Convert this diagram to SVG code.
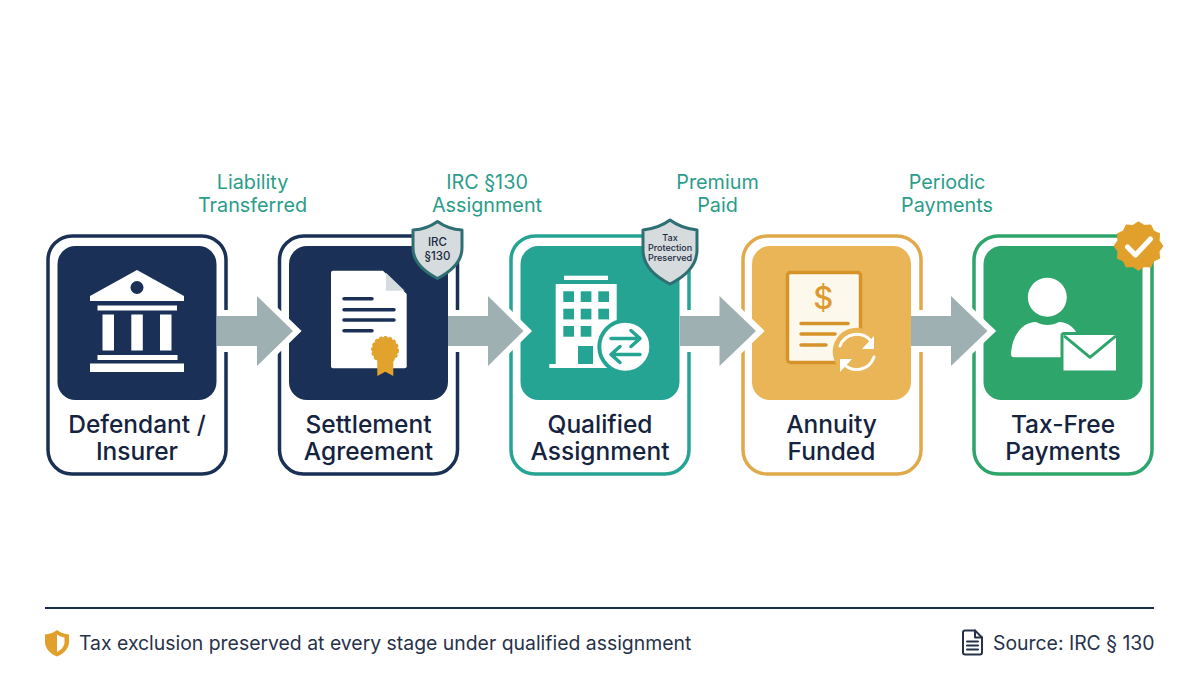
<svg xmlns="http://www.w3.org/2000/svg" width="1200" height="675" viewBox="0 0 1200 675">
<style>
text{font-family:Inter,"Liberation Sans",sans-serif;text-anchor:middle}
.card{fill:#fff;stroke-width:3.5}
.name{font-size:24.500px;font-weight:500;fill:#15233f}
.edge{font-size:19.800px;fill:#2a9d8a}
.halo{fill:#fff;stroke:#fff;stroke-width:12;stroke-linejoin:miter;stroke-miterlimit:10}
.arrow{fill:#9fb0b2}
.w{fill:#fff}
.foot{font-size:19.400px;fill:#27324a;text-anchor:start}
.shield{fill:#d6dbde;stroke:#2e6f73;stroke-width:3;stroke-linejoin:round}
.badge{font-weight:500;fill:#1b2a40}
.l{fill:none;stroke-linecap:round;stroke-linejoin:round}
</style>
<rect width="1200" height="675" fill="#fff"/>

<g id="node-defendant">
<rect class="card" x="48" y="236" width="178" height="238" rx="24" stroke="#1a3057"/>
<rect x="57.500" y="246" width="159" height="154" rx="18" fill="#1a3057"/>
<path class="w" d="M137 270L184 296V301H90V296Z"/>
<circle cx="137" cy="287.500" r="6.500" fill="#1a3057"/>
<rect class="w" x="97.500" y="305.500" width="79.500" height="5"/>
<rect class="w" x="102.500" y="314.500" width="11.500" height="36"/>
<rect class="w" x="131.300" y="314.500" width="11.500" height="36"/>
<rect class="w" x="160" y="314.500" width="11.500" height="36"/>
<rect class="w" x="97.500" y="355" width="80" height="5"/>
<rect class="w" x="90" y="363.500" width="94" height="8.500"/>
<text class="name" x="137" y="433">Defendant /</text>
<text class="name" x="137" y="460">Insurer</text>
</g>

<g id="node-settlement">
<rect class="card" x="279.500" y="236" width="178" height="238" rx="24" stroke="#1a3057"/>
<rect x="289" y="246" width="159" height="154" rx="18" fill="#1a3057"/>
<path class="w" d="M333 270.700H383L406.700 294V366.300a2 2 0 0 1-2 2H333a2 2 0 0 1-2-2V272.700a2 2 0 0 1 2-2Z"/>
<path d="M386 272.700L404.700 290.700H386Z" fill="#d6dbde"/>
<g class="l" stroke="#1a3057" stroke-width="3.500">
<path d="M344 298.700H372M344 309.700H394M344 320H394M344 330.700H372"/>
</g>
<path d="M377.300 358V376L385.300 371.700L393.300 376V358Z" fill="#e2a32c"/>
<circle cx="385" cy="350" r="13" fill="#e2a32c" stroke="#e2a32c" stroke-width="2" stroke-dasharray="3 2"/>
<text class="name" x="368.500" y="433">Settlement</text>
<text class="name" x="368.500" y="460">Agreement</text>
<path class="shield" d="M437.500 221.500C445 227 454 229.500 462 230V248C462 262 450 272 437.500 278.500C425 272 413 262 413 248V230C421 229.500 430 227 437.500 221.500Z"/>
<text class="badge" x="437.500" y="246" font-size="11.500">IRC</text>
<text class="badge" x="437.500" y="260" font-size="11.500">§130</text>
</g>

<g id="node-qualified">
<rect class="card" x="511" y="236" width="178" height="238" rx="24" stroke="#26a493"/>
<rect x="520.500" y="246" width="159" height="154" rx="18" fill="#26a493"/>
<rect class="w" x="564" y="275.700" width="44" height="4.300"/>
<path class="w" d="M555.700 284H616.700V364H610V368H549.300V364H555.700Z"/>
<rect x="578" y="346" width="15" height="18" fill="#26a493"/>
<g fill="#26a493">
<rect x="563.300" y="291.300" width="10.700" height="10.700"/><rect x="580.700" y="291.300" width="10.700" height="10.700"/><rect x="598.300" y="291.300" width="10.700" height="10.700"/>
<rect x="563.300" y="308.700" width="10.700" height="10.700"/><rect x="580.700" y="308.700" width="10.700" height="10.700"/><rect x="598.300" y="308.700" width="10.700" height="10.700"/>
<rect x="563.300" y="326" width="10.700" height="10.700"/><rect x="580.700" y="326" width="10.700" height="10.700"/>
</g>
<circle cx="625.300" cy="346.700" r="26" fill="#fff" stroke="#26a493" stroke-width="4"/>
<g class="l" stroke="#26a493" stroke-width="3.500">
<path d="M611 338.500H640M631 330.500L640 338.500L631 346.500"/>
<path d="M640 354.500H611M620 346.500L611 354.500L620 362.500"/>
</g>
<text class="name" x="600" y="433">Qualified</text>
<text class="name" x="600" y="460">Assignment</text>
<path class="shield" d="M670 220C678 226 688 229 697 230V250C697 266 684 277 670 284C656 277 643 266 643 250V230C652 229 662 226 670 220Z"/>
<text class="badge" x="670" y="241" font-size="9">Tax</text>
<text class="badge" x="670" y="251" font-size="9">Protection</text>
<text class="badge" x="670" y="261" font-size="9">Preserved</text>
</g>

<g id="node-annuity">
<rect class="card" x="743" y="236" width="178" height="238" rx="24" stroke="#e0a94a"/>
<rect x="752" y="246" width="159" height="154" rx="18" fill="#e9b557"/>
<rect x="787.500" y="272.500" width="73" height="90" rx="3" fill="#fdf8ec" stroke="#d6932a" stroke-width="3.500"/>
<text x="823.300" y="309" font-size="31" font-weight="500" fill="#dc9a2d">$</text>
<g class="l" stroke="#d6932a" stroke-width="3.500">
<path d="M801 323.500H848M801 334H835M801 345H826"/>
</g>
<circle cx="856.700" cy="351.700" r="24" fill="#e9b557"/>
<g class="l" stroke="#fff" stroke-width="3">
<path d="M840 346A18 18 0 0 1 871 341"/>
<path d="M874 357A18 18 0 0 1 843 363"/>
</g>
<path class="w" d="M874 336V349H862Z"/>
<path class="w" d="M840 372V359H852Z"/>
<text class="name" x="831.500" y="433">Annuity</text>
<text class="name" x="831.500" y="460">Funded</text>
</g>

<g id="node-payments">
<rect class="card" x="974" y="236" width="178" height="238" rx="24" stroke="#2ea56b"/>
<rect x="983.500" y="246" width="159" height="154" rx="18" fill="#2ea56b"/>
<circle class="w" cx="1047.300" cy="297.300" r="19.500"/>
<path class="w" d="M1011 354C1012 336 1022 322 1036 322C1043 326 1052 326 1059 322C1068 322 1076 328 1080 340V357.300H1014Q1011 357.300 1011 354Z"/>
<rect class="w" x="1062" y="333.500" width="55.500" height="38.500" rx="2" stroke="#2ea56b" stroke-width="3"/>
<path class="l" d="M1065 336.700L1090 357.300L1115 336.700" stroke="#2ea56b" stroke-width="3"/>
<text class="name" x="1063" y="433">Tax-Free</text>
<text class="name" x="1063" y="460">Payments</text>
<g transform="translate(1138.500 246)">
<path fill="#e0a02b" stroke="#e0a02b" stroke-width="1.500" stroke-linejoin="round" d="M24 0L20.300 5.400L20.800 12L14.900 14.900L12 20.800L5.400 20.300L0 24L-5.400 20.300L-12 20.800L-14.900 14.900L-20.800 12L-20.300 5.400L-24 0L-20.300 -5.400L-20.800 -12L-14.900 -14.900L-12 -20.800L-5.400 -20.300L0 -24L5.400 -20.300L12 -20.800L14.900 -14.900L20.800 -12L20.300 -5.400Z"/>
<path class="l" d="M-11 1L-3 9L12 -7" stroke="#fff" stroke-width="5"/>
</g>
</g>

<g id="connectors">
<path class="halo" d="M223 316H257V296L293 331L257 366V346H223Z"/>
<path class="arrow" d="M217 316H257V296L293 331L257 366V346H217Z"/>
<path class="halo" d="M454 316H488V296L523.500 331L488 366V346H454Z"/>
<path class="arrow" d="M448 316H488V296L523.500 331L488 366V346H448Z"/>
<path class="halo" d="M686 316H719.500V296L756 331L719.500 366V346H686Z"/>
<path class="arrow" d="M680 316H719.500V296L756 331L719.500 366V346H680Z"/>
<path class="halo" d="M917 316H951V296L987.500 331L951 366V346H917Z"/>
<path class="arrow" d="M911 316H951V296L987.500 331L951 366V346H911Z"/>
<text class="edge" x="252.500" y="189">Liability</text>
<text class="edge" x="252.500" y="211.500">Transferred</text>
<text class="edge" x="487" y="189">IRC §130</text>
<text class="edge" x="487" y="211.500">Assignment</text>
<text class="edge" x="717.500" y="189">Premium</text>
<text class="edge" x="717.500" y="211.500">Paid</text>
<text class="edge" x="947" y="189">Periodic</text>
<text class="edge" x="947" y="211.500">Payments</text>
</g>

<g id="footer">
<line x1="45" y1="608" x2="1154" y2="608" stroke="#1a2e50" stroke-width="2"/>
<path d="M57 630C61 633 65 634 69 634.500V642C69 649 63 654 57 656.500C51 654 45 649 45 642V634.500C49 634 53 633 57 630Z" fill="#e0a02b"/>
<path d="M57 634.500C59.500 636 62 637 64.500 637.500V642C64.500 646.500 61 650 57 652Z" fill="#fff"/>
<text class="foot" x="79" y="650">Tax exclusion preserved at every stage under qualified assignment</text>
<g class="l" stroke="#27324a" stroke-width="2">
<path d="M965 630.500H975L982 637.500V652.500a2 2 0 0 1-2 2H965a2 2 0 0 1-2-2V632.500a2 2 0 0 1 2-2Z"/>
<path d="M975 630.500V637.500H982M967 641.500H978M967 645.500H978M967 649.500H978"/>
</g>
<text class="foot" x="993" y="650">Source: IRC § 130</text>
</g>
</svg>
